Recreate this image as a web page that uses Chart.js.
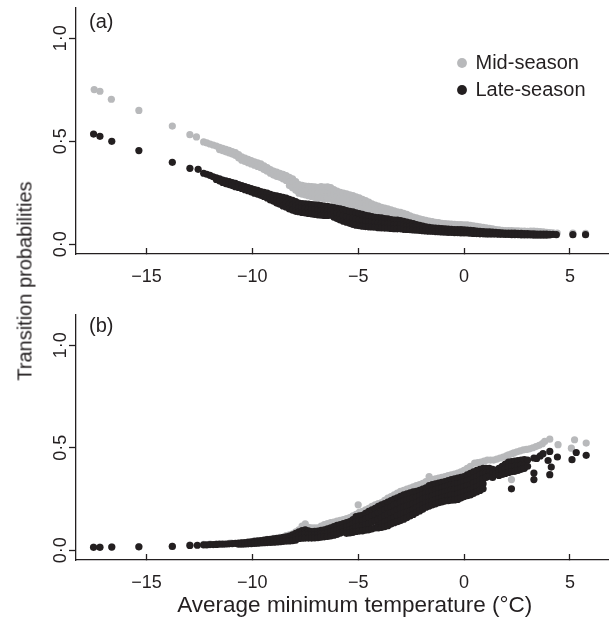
<!DOCTYPE html>
<html lang="en">
<head>
    <meta charset="UTF-8">
    <title>Transition probabilities</title>
    <script src="https://cdn.jsdelivr.net/npm/chart.js"></script>
    <style>
        html, body {
            margin: 0;
            padding: 0;
            background: #fff;
            overflow: hidden;
        }
        .page {
            position: relative;
            width: 609px;
            height: 619px;
            overflow: hidden;
        }
        .panel {
            position: absolute;
            left: 0;
        }
        .y-title {
            position: absolute;
            left: 25px;
            top: 281px;
            transform: translate(-50%, -50%) rotate(-90deg);
            white-space: nowrap;
            font-family: "Liberation Sans", Arial, sans-serif;
            font-size: 20px;
            color: #231f20;
        }
    </style>
</head>
<body>
<div class="page">
    <canvas id="chartA" class="panel" width="637" height="300" style="top:0"></canvas>
    <canvas id="chartB" class="panel" width="637" height="319" style="top:300px"></canvas>
    <div class="y-title">Transition probabilities</div>
</div>
<script>
// axis ticks
const xTickValues = [-15, -10, -5, 0, 5];
const xTickLabels = ['\u221215', '\u221210', '\u22125', '0', '5'];
const yTickValues = [0, 0.5, 1];
const yTickLabels = ['0\u00b70', '0\u00b75', '1\u00b70'];
const seriesNames = ['Mid-season', 'Late-season'];

// (a) mid-season, [temperature, probability]
const midSeasonA = [
    [-17.47,0.751],[-17.2,0.743],[-16.66,0.704],[-15.36,0.65],[-13.78,0.574],[-12.95,0.532],[-12.64,0.521],
    [-12.3,0.497],[-12.15,0.492],[-12.0,0.487],[-11.85,0.482],[-11.7,0.477],[-11.55,0.471],[-11.55,0.46],
    [-11.4,0.466],[-11.4,0.455],[-11.25,0.461],[-11.25,0.449],[-11.1,0.456],[-11.1,0.444],[-10.95,0.45],[-10.95,0.438],
    [-10.8,0.445],[-10.8,0.432],[-10.65,0.435],[-10.65,0.42],[-10.5,0.424],[-10.5,0.408],[-10.35,0.418],[-10.35,0.402],
    [-10.2,0.412],[-10.2,0.396],[-10.05,0.406],[-10.05,0.39],[-9.9,0.4],[-9.9,0.384],[-9.75,0.395],[-9.75,0.378],
    [-9.6,0.39],[-9.6,0.372],[-9.45,0.381],[-9.45,0.363],[-9.3,0.372],[-9.3,0.355],[-9.15,0.363],[-9.15,0.345],
    [-9.0,0.355],[-9.0,0.336],[-8.85,0.35],[-8.85,0.33],[-8.7,0.345],[-8.7,0.325],[-8.55,0.339],[-8.55,0.318],
    [-8.4,0.333],[-8.4,0.31],[-8.25,0.325],[-8.25,0.302],[-8.25,0.285],[-8.1,0.318],[-8.1,0.295],[-8.1,0.275],
    [-7.95,0.304],[-7.95,0.282],[-7.95,0.262],[-7.8,0.29],[-7.8,0.268],[-7.8,0.248],[-7.65,0.286],[-7.65,0.264],[-7.65,0.244],
    [-7.5,0.282],[-7.5,0.26],[-7.5,0.24],[-7.35,0.281],[-7.35,0.258],[-7.35,0.236],[-7.2,0.28],[-7.2,0.255],[-7.2,0.232],
    [-7.05,0.279],[-7.05,0.252],[-7.05,0.228],[-6.9,0.277],[-6.9,0.25],[-6.9,0.225],[-6.75,0.28],[-6.75,0.25],[-6.75,0.224],
    [-6.6,0.278],[-6.6,0.25],[-6.6,0.222],[-6.45,0.279],[-6.45,0.25],[-6.45,0.222],[-6.3,0.275],[-6.3,0.248],[-6.3,0.22],
    [-6.15,0.266],[-6.15,0.24],[-6.15,0.212],[-6.0,0.258],[-6.0,0.232],[-6.0,0.205],[-5.85,0.252],[-5.85,0.226],[-5.85,0.2],
    [-5.7,0.248],[-5.7,0.222],[-5.7,0.195],[-5.55,0.245],[-5.55,0.218],[-5.55,0.19],[-5.4,0.24],[-5.4,0.212],[-5.4,0.185],
    [-5.25,0.236],[-5.25,0.208],[-5.25,0.18],[-5.1,0.23],[-5.1,0.205],[-5.1,0.175],[-4.95,0.226],[-4.95,0.2],[-4.95,0.172],
    [-4.8,0.218],[-4.8,0.195],[-4.8,0.168],[-4.65,0.212],[-4.65,0.188],[-4.65,0.162],[-4.5,0.205],[-4.5,0.18],[-4.5,0.158],
    [-4.35,0.196],[-4.35,0.174],[-4.35,0.152],[-4.2,0.19],[-4.2,0.168],[-4.2,0.148],[-4.05,0.185],[-4.05,0.164],[-4.05,0.144],
    [-3.9,0.18],[-3.9,0.16],[-3.9,0.14],[-3.75,0.176],[-3.75,0.156],[-3.75,0.136],[-3.6,0.172],[-3.6,0.152],[-3.6,0.133],
    [-3.45,0.167],[-3.45,0.148],[-3.45,0.13],[-3.3,0.162],[-3.3,0.145],[-3.3,0.128],[-3.15,0.158],[-3.15,0.142],[-3.15,0.124],
    [-3.0,0.155],[-3.0,0.138],[-3.0,0.12],[-2.85,0.15],[-2.85,0.133],[-2.85,0.116],[-2.7,0.145],[-2.7,0.128],[-2.7,0.112],
    [-2.55,0.138],[-2.55,0.122],[-2.55,0.108],[-2.4,0.132],[-2.4,0.118],[-2.4,0.105],[-2.25,0.128],[-2.25,0.114],[-2.25,0.1],
    [-2.1,0.124],[-2.1,0.11],[-2.1,0.098],[-1.95,0.12],[-1.95,0.107],[-1.95,0.094],[-1.8,0.116],[-1.8,0.104],[-1.8,0.092],
    [-1.65,0.113],[-1.65,0.1],[-1.65,0.09],[-1.5,0.11],[-1.5,0.098],[-1.5,0.088],[-1.35,0.107],[-1.35,0.094],
    [-1.2,0.105],[-1.2,0.092],[-1.05,0.102],[-1.05,0.09],[-0.9,0.1],[-0.9,0.088],[-0.75,0.099],[-0.75,0.086],
    [-0.6,0.098],[-0.6,0.085],[-0.45,0.097],[-0.45,0.084],[-0.3,0.096],[-0.3,0.083],[-0.15,0.096],[-0.15,0.083],
    [0.0,0.095],[0.0,0.082],[0.15,0.094],[0.15,0.081],[0.3,0.092],[0.3,0.08],[0.45,0.09],[0.45,0.078],
    [0.6,0.087],[0.6,0.076],[0.75,0.085],[0.75,0.074],[0.9,0.082],[0.9,0.072],[1.05,0.08],[1.05,0.07],
    [1.2,0.077],[1.2,0.068],[1.35,0.075],[1.35,0.066],[1.5,0.072],[1.5,0.064],[1.65,0.07],[1.65,0.063],
    [1.8,0.068],[1.8,0.062],[1.95,0.067],[2.1,0.066],[2.25,0.066],[2.4,0.065],[2.55,0.065],[2.7,0.064],[2.85,0.064],
    [3.0,0.063],[3.15,0.064],[3.3,0.064],[3.45,0.063],[3.6,0.062],[3.75,0.06],[3.9,0.058],[4.05,0.057],[4.2,0.056],
    [4.4,0.055],[5.14,0.054],[5.74,0.053]
];

// (a) late-season
const lateSeasonA = [
    [-17.5,0.535],[-17.2,0.524],[-16.64,0.5],[-15.36,0.455],[-13.78,0.398],[-12.95,0.369],[-12.56,0.364],
    [-12.3,0.345],[-12.15,0.34],[-12.0,0.335],[-11.85,0.328],[-11.7,0.322],[-11.7,0.315],[-11.55,0.318],[-11.55,0.308],
    [-11.4,0.312],[-11.4,0.3],[-11.25,0.308],[-11.25,0.295],[-11.1,0.305],[-11.1,0.29],[-10.95,0.3],[-10.95,0.285],
    [-10.8,0.296],[-10.8,0.28],[-10.65,0.29],[-10.65,0.276],[-10.5,0.285],[-10.5,0.271],[-10.35,0.28],[-10.35,0.265],
    [-10.2,0.275],[-10.2,0.26],[-10.05,0.27],[-10.05,0.255],[-9.9,0.266],[-9.9,0.248],[-9.75,0.262],[-9.75,0.244],
    [-9.6,0.256],[-9.6,0.238],[-9.45,0.252],[-9.45,0.232],[-9.3,0.248],[-9.3,0.225],[-9.15,0.243],[-9.15,0.226],[-9.15,0.215],
    [-9.0,0.238],[-9.0,0.222],[-9.0,0.21],[-8.85,0.235],[-8.85,0.216],[-8.85,0.2],[-8.7,0.232],[-8.7,0.212],[-8.7,0.195],
    [-8.55,0.228],[-8.55,0.206],[-8.55,0.186],[-8.4,0.224],[-8.4,0.2],[-8.4,0.18],[-8.25,0.218],[-8.25,0.195],[-8.25,0.172],
    [-8.1,0.213],[-8.1,0.19],[-8.1,0.166],[-7.95,0.207],[-7.95,0.184],[-7.95,0.16],[-7.8,0.2],[-7.8,0.178],[-7.8,0.158],
    [-7.65,0.198],[-7.65,0.176],[-7.65,0.155],[-7.5,0.197],[-7.5,0.174],[-7.5,0.152],[-7.35,0.195],[-7.35,0.172],[-7.35,0.15],
    [-7.2,0.193],[-7.2,0.17],[-7.2,0.148],[-7.05,0.192],[-7.05,0.168],[-7.05,0.145],[-6.9,0.19],[-6.9,0.166],[-6.9,0.143],
    [-6.75,0.188],[-6.75,0.164],[-6.75,0.141],[-6.6,0.185],[-6.6,0.162],[-6.6,0.14],[-6.45,0.184],[-6.45,0.161],[-6.45,0.14],
    [-6.3,0.181],[-6.3,0.16],[-6.3,0.142],[-6.15,0.178],[-6.15,0.155],[-6.15,0.132],[-6.0,0.175],[-6.0,0.15],[-6.0,0.125],
    [-5.85,0.172],[-5.85,0.145],[-5.85,0.118],[-5.7,0.168],[-5.7,0.14],[-5.7,0.112],[-5.55,0.164],[-5.55,0.135],[-5.55,0.107],
    [-5.4,0.16],[-5.4,0.13],[-5.4,0.102],[-5.25,0.157],[-5.25,0.127],[-5.25,0.097],[-5.1,0.153],[-5.1,0.122],[-5.1,0.093],
    [-4.95,0.149],[-4.95,0.119],[-4.95,0.09],[-4.8,0.145],[-4.8,0.116],[-4.8,0.088],[-4.65,0.141],[-4.65,0.113],[-4.65,0.086],
    [-4.5,0.138],[-4.5,0.11],[-4.5,0.085],[-4.35,0.134],[-4.35,0.108],[-4.35,0.084],[-4.2,0.131],[-4.2,0.106],[-4.2,0.083],
    [-4.05,0.13],[-4.05,0.104],[-4.05,0.081],[-3.9,0.128],[-3.9,0.102],[-3.9,0.08],[-3.75,0.125],[-3.75,0.101],[-3.75,0.079],
    [-3.6,0.123],[-3.6,0.1],[-3.6,0.078],[-3.45,0.12],[-3.45,0.098],[-3.45,0.077],[-3.3,0.118],[-3.3,0.096],[-3.3,0.076],
    [-3.15,0.117],[-3.15,0.095],[-3.15,0.075],[-3.0,0.115],[-3.0,0.094],[-3.0,0.075],[-2.85,0.112],[-2.85,0.092],[-2.85,0.073],
    [-2.7,0.108],[-2.7,0.09],[-2.7,0.072],[-2.55,0.104],[-2.55,0.087],[-2.55,0.071],[-2.4,0.1],[-2.4,0.085],[-2.4,0.07],
    [-2.25,0.096],[-2.25,0.082],[-2.25,0.069],[-2.1,0.092],[-2.1,0.068],[-1.95,0.088],[-1.95,0.066],[-1.8,0.085],[-1.8,0.065],
    [-1.65,0.082],[-1.65,0.064],[-1.5,0.08],[-1.5,0.063],[-1.35,0.079],[-1.35,0.062],[-1.2,0.078],[-1.2,0.061],
    [-1.05,0.076],[-1.05,0.06],[-0.9,0.075],[-0.9,0.059],[-0.75,0.074],[-0.75,0.058],[-0.6,0.073],[-0.6,0.058],
    [-0.45,0.072],[-0.45,0.057],[-0.3,0.072],[-0.3,0.057],[-0.15,0.071],[-0.15,0.056],[0.0,0.07],[0.0,0.056],
    [0.15,0.069],[0.15,0.055],[0.3,0.068],[0.3,0.054],[0.45,0.066],[0.45,0.053],[0.6,0.064],[0.6,0.052],
    [0.75,0.063],[0.75,0.051],[0.9,0.062],[0.9,0.051],[1.05,0.061],[1.05,0.05],[1.2,0.06],[1.2,0.05],
    [1.35,0.059],[1.35,0.05],[1.5,0.058],[1.5,0.05],[1.65,0.057],[1.65,0.049],[1.8,0.056],[1.8,0.049],
    [1.95,0.055],[1.95,0.048],[2.1,0.055],[2.1,0.048],[2.25,0.054],[2.25,0.047],[2.4,0.054],[2.4,0.047],
    [2.55,0.053],[2.55,0.047],[2.7,0.053],[2.7,0.046],[2.85,0.052],[2.85,0.046],[3.0,0.052],[3.0,0.046],
    [3.15,0.051],[3.15,0.046],[3.3,0.051],[3.3,0.045],[3.45,0.05],[3.45,0.045],[3.6,0.05],[3.6,0.045],
    [3.75,0.049],[3.75,0.045],[3.9,0.049],[3.9,0.045],[4.05,0.048],[4.05,0.046],[4.2,0.048],
    [4.36,0.047],[5.14,0.047],[5.74,0.047]
];

// (b) mid-season
const midSeasonB = [
    [-17.5,0.016],[-17.2,0.016],[-16.64,0.017],[-15.36,0.018],[-13.78,0.02],[-12.95,0.026],
    [-12.3,0.029],[-12.0,0.03],[-11.7,0.031],[-11.1,0.034],[-11.0,0.035],[-10.5,0.038],[-10.0,0.043],[-9.9,0.046],
    [-9.3,0.054],[-9.0,0.058],[-8.7,0.063],[-8.4,0.072],[-8.25,0.076],[-8.1,0.08],[-7.95,0.09],[-7.8,0.1],[-7.65,0.118],
    [-7.5,0.129],[-7.5,0.11],[-7.35,0.112],[-7.2,0.11],[-7.05,0.11],[-6.9,0.11],[-6.75,0.118],[-6.6,0.125],[-6.45,0.13],
    [-6.3,0.135],[-6.15,0.138],[-6.0,0.142],[-5.85,0.146],[-5.7,0.15],[-5.55,0.155],[-5.4,0.16],[-5.25,0.168],
    [-5.1,0.175],[-5.0,0.222],[-4.95,0.185],[-4.8,0.19],[-4.65,0.198],[-4.5,0.205],[-4.35,0.214],[-4.2,0.222],
    [-4.05,0.228],[-3.9,0.233],[-3.75,0.244],[-3.6,0.255],[-3.45,0.262],[-3.3,0.27],[-3.15,0.279],[-3.0,0.287],
    [-2.85,0.292],[-2.7,0.298],[-2.55,0.304],[-2.4,0.31],[-2.25,0.315],[-2.1,0.32],[-1.95,0.327],[-1.8,0.335],
    [-1.65,0.36],[-1.5,0.345],[-1.35,0.348],[-1.2,0.352],[-1.05,0.356],[-0.9,0.36],[-0.75,0.364],[-0.6,0.368],
    [-0.45,0.372],[-0.3,0.376],[-0.15,0.382],[0.0,0.39],[0.15,0.4],[0.3,0.41],[0.5,0.425],[0.65,0.428],[0.8,0.43],
    [0.95,0.435],[1.1,0.44],[1.25,0.44],[1.4,0.44],[1.55,0.445],[1.7,0.45],[1.85,0.455],[2.0,0.46],[2.1,0.465],
    [2.24,0.47],[2.24,0.345],[2.35,0.475],[2.5,0.48],[2.65,0.485],[2.8,0.49],[2.95,0.492],[3.1,0.495],[3.25,0.5],
    [3.4,0.506],[3.55,0.512],[3.7,0.52],[3.81,0.531],[4.05,0.542],[4.44,0.515],[5.07,0.498],[5.22,0.539],[5.77,0.523]
];

// (b) late-season
const lateSeasonB = [
    [-17.5,0.015],[-17.2,0.015],[-16.64,0.016],[-15.36,0.017],[-13.78,0.019],[-12.95,0.024],[-12.6,0.025],
    [-12.3,0.027],[-12.15,0.027],[-12.0,0.028],[-11.85,0.028],[-11.7,0.029],[-11.55,0.03],[-11.4,0.03],[-11.25,0.031],
    [-11.1,0.032],[-10.95,0.033],[-10.8,0.034],[-10.65,0.035],[-10.65,0.03],[-10.5,0.036],[-10.5,0.03],
    [-10.35,0.038],[-10.35,0.031],[-10.2,0.04],[-10.2,0.032],[-10.05,0.042],[-10.05,0.033],[-9.9,0.044],[-9.9,0.034],
    [-9.75,0.046],[-9.75,0.035],[-9.6,0.048],[-9.6,0.036],[-9.45,0.05],[-9.45,0.037],[-9.3,0.052],[-9.3,0.038],
    [-9.15,0.054],[-9.15,0.039],[-9.0,0.056],[-9.0,0.04],[-8.85,0.058],[-8.85,0.041],[-8.7,0.06],[-8.7,0.042],
    [-8.55,0.063],[-8.55,0.044],[-8.4,0.066],[-8.4,0.045],[-8.25,0.07],[-8.25,0.055],[-8.25,0.046],
    [-8.1,0.075],[-8.1,0.06],[-8.1,0.047],[-7.95,0.083],[-7.95,0.066],[-7.95,0.05],[-7.8,0.09],[-7.8,0.075],[-7.8,0.058],
    [-7.65,0.096],[-7.65,0.078],[-7.65,0.059],[-7.5,0.1],[-7.5,0.08],[-7.5,0.06],[-7.35,0.095],[-7.35,0.078],[-7.35,0.06],
    [-7.2,0.092],[-7.2,0.075],[-7.2,0.06],[-7.05,0.093],[-7.05,0.077],[-7.05,0.061],[-6.9,0.094],[-6.9,0.078],[-6.9,0.062],
    [-6.75,0.097],[-6.75,0.08],[-6.75,0.064],[-6.6,0.1],[-6.6,0.082],[-6.6,0.066],[-6.45,0.105],[-6.45,0.086],[-6.45,0.068],
    [-6.3,0.11],[-6.3,0.09],[-6.3,0.07],[-6.15,0.116],[-6.15,0.095],[-6.15,0.074],[-6.0,0.122],[-6.0,0.1],[-6.0,0.078],
    [-5.85,0.126],[-5.85,0.105],[-5.85,0.084],[-5.7,0.13],[-5.7,0.11],[-5.7,0.09],
    [-5.55,0.135],[-5.55,0.115],[-5.55,0.095],[-5.55,0.083],[-5.4,0.14],[-5.4,0.12],[-5.4,0.1],[-5.4,0.085],
    [-5.25,0.15],[-5.25,0.128],[-5.25,0.106],[-5.25,0.088],[-5.1,0.165],[-5.1,0.14],[-5.1,0.115],[-5.1,0.092],
    [-4.95,0.168],[-4.95,0.142],[-4.95,0.118],[-4.95,0.094],[-4.8,0.17],[-4.8,0.145],[-4.8,0.12],[-4.8,0.095],
    [-4.65,0.18],[-4.65,0.152],[-4.65,0.125],[-4.65,0.098],[-4.5,0.19],[-4.5,0.16],[-4.5,0.13],[-4.5,0.1],
    [-4.35,0.198],[-4.35,0.168],[-4.35,0.138],[-4.35,0.105],[-4.2,0.205],[-4.2,0.175],[-4.2,0.145],[-4.2,0.11],
    [-4.05,0.215],[-4.05,0.183],[-4.05,0.152],[-4.05,0.12],[-4.05,0.11],
    [-3.9,0.222],[-3.9,0.19],[-3.9,0.16],[-3.9,0.13],[-3.9,0.112],[-3.75,0.228],[-3.75,0.198],[-3.75,0.168],[-3.75,0.138],[-3.75,0.116],
    [-3.6,0.235],[-3.6,0.205],[-3.6,0.175],[-3.6,0.145],[-3.6,0.12],[-3.45,0.243],[-3.45,0.212],[-3.45,0.182],[-3.45,0.152],[-3.45,0.128],
    [-3.3,0.25],[-3.3,0.22],[-3.3,0.19],[-3.3,0.16],[-3.3,0.135],[-3.15,0.256],[-3.15,0.228],[-3.15,0.198],[-3.15,0.168],[-3.15,0.14],
    [-3.0,0.263],[-3.0,0.235],[-3.0,0.205],[-3.0,0.175],[-3.0,0.145],[-2.85,0.27],[-2.85,0.24],[-2.85,0.21],[-2.85,0.18],[-2.85,0.152],
    [-2.7,0.275],[-2.7,0.245],[-2.7,0.215],[-2.7,0.185],[-2.7,0.16],[-2.55,0.28],[-2.55,0.25],[-2.55,0.22],[-2.55,0.192],[-2.55,0.168],
    [-2.4,0.285],[-2.4,0.255],[-2.4,0.225],[-2.4,0.2],[-2.4,0.175],[-2.25,0.288],[-2.25,0.26],[-2.25,0.232],[-2.25,0.208],[-2.25,0.184],
    [-2.1,0.292],[-2.1,0.265],[-2.1,0.24],[-2.1,0.215],[-2.1,0.192],[-1.95,0.298],[-1.95,0.272],[-1.95,0.248],[-1.95,0.222],[-1.95,0.2],
    [-1.8,0.305],[-1.8,0.28],[-1.8,0.255],[-1.8,0.23],[-1.8,0.21],[-1.65,0.315],[-1.65,0.285],[-1.65,0.26],[-1.65,0.235],[-1.65,0.216],
    [-1.5,0.32],[-1.5,0.29],[-1.5,0.265],[-1.5,0.24],[-1.5,0.222],[-1.35,0.324],[-1.35,0.295],[-1.35,0.27],[-1.35,0.246],[-1.35,0.227],
    [-1.2,0.328],[-1.2,0.3],[-1.2,0.275],[-1.2,0.252],[-1.2,0.232],[-1.05,0.332],[-1.05,0.305],[-1.05,0.28],[-1.05,0.256],[-1.05,0.236],
    [-0.9,0.335],[-0.9,0.31],[-0.9,0.285],[-0.9,0.26],[-0.9,0.24],[-0.75,0.34],[-0.75,0.315],[-0.75,0.29],[-0.75,0.265],[-0.75,0.242],
    [-0.6,0.345],[-0.6,0.32],[-0.6,0.295],[-0.6,0.27],[-0.6,0.245],[-0.45,0.348],[-0.45,0.322],[-0.45,0.298],[-0.45,0.272],[-0.45,0.246],
    [-0.3,0.352],[-0.3,0.325],[-0.3,0.3],[-0.3,0.275],[-0.3,0.248],[-0.15,0.356],[-0.15,0.33],[-0.15,0.305],[-0.15,0.28],[-0.15,0.255],
    [0.0,0.36],[0.0,0.335],[0.0,0.31],[0.0,0.285],[0.0,0.262],[0.15,0.368],[0.15,0.34],[0.15,0.315],[0.15,0.29],[0.15,0.266],
    [0.3,0.375],[0.3,0.345],[0.3,0.32],[0.3,0.295],[0.3,0.27],[0.45,0.382],[0.45,0.352],[0.45,0.328],[0.45,0.302],[0.45,0.278],
    [0.6,0.39],[0.6,0.36],[0.6,0.335],[0.6,0.31],[0.6,0.285],[0.75,0.395],[0.75,0.368],[0.75,0.342],[0.75,0.318],[0.75,0.292],
    [0.9,0.4],[0.9,0.375],[0.9,0.35],[0.9,0.325],[0.9,0.3],[1.05,0.4],[1.05,0.378],[1.05,0.356],
    [1.2,0.4],[1.2,0.38],[1.2,0.362],[1.35,0.395],[1.35,0.374],[1.35,0.355],[1.5,0.39],[1.5,0.37],
    [1.65,0.4],[1.65,0.38],[1.65,0.365],[1.8,0.41],[1.8,0.39],[1.8,0.37],[1.95,0.42],[1.95,0.398],[1.95,0.375],
    [2.1,0.43],[2.1,0.405],[2.1,0.38],[2.24,0.3],[2.25,0.432],[2.25,0.408],[2.25,0.383],[2.4,0.435],[2.4,0.41],[2.4,0.385],
    [2.55,0.438],[2.55,0.412],[2.55,0.39],[2.7,0.44],[2.7,0.415],[2.7,0.395],[2.85,0.442],[2.85,0.414],[2.85,0.4],
    [3.0,0.44],[3.0,0.41],[3.3,0.45],[3.3,0.377],[3.3,0.345],[3.43,0.448],[3.6,0.46],[3.73,0.471],[3.97,0.438],
    [4.05,0.482],[4.05,0.369],[4.12,0.406],[4.41,0.455],[5.1,0.442],[5.3,0.477],[5.77,0.463]
];

const ink = '#231f20';
const grey = '#b8b9bb';

Chart.defaults.font.family = '"Liberation Sans", Arial, sans-serif';
Chart.defaults.color = ink;

const toPoints = arr => arr.map(p => ({ x: p[0], y: p[1] }));

// panel letter in the top-left corner of the plot
const panelLabel = {
    id: 'panelLabel',
    afterDraw(chart, args, opts) {
        const ctx = chart.ctx;
        ctx.save();
        ctx.font = '20px "Liberation Sans", Arial, sans-serif';
        ctx.fillStyle = ink;
        ctx.textBaseline = 'middle';
        ctx.fillText(opts.text, chart.chartArea.left + 13, chart.chartArea.top + opts.dy);
        ctx.restore();
    }
};

// move the chartArea legend to the upper right of the plot
const legendPlace = {
    id: 'legendPlace',
    afterLayout(chart, args, opts) {
        const lg = chart.legend;
        if (!lg || !chart.options.plugins.legend.display) return;
        lg.left = chart.chartArea.left + opts.dx;
        lg.top = chart.chartArea.top + opts.dy;
    }
};

function makeChart(id, mid, late, opts) {
    const dot = { pointRadius: 3.6, pointHoverRadius: 3.6, borderWidth: 0, pointStyle: 'circle' };
    return new Chart(document.getElementById(id), {
        type: 'scatter',
        data: {
            datasets: [
                Object.assign({ label: seriesNames[0], data: toPoints(mid), backgroundColor: grey, borderColor: grey, order: 1 }, dot),
                Object.assign({ label: seriesNames[1], data: toPoints(late), backgroundColor: ink, borderColor: ink, order: 0 }, dot)
            ]
        },
        options: {
            responsive: false,
            animation: false,
            layout: { padding: { top: opts.top, right: 0, bottom: 0, left: 0 } },
            plugins: {
                tooltip: { enabled: false },
                legend: {
                    display: opts.legend,
                    position: 'chartArea',
                    align: 'start',
                    labels: {
                        usePointStyle: true,
                        boxWidth: 7,
                        boxHeight: 7,
                        padding: 7,
                        color: ink,
                        font: { size: 20 },
                        sort: (a, b) => a.datasetIndex - b.datasetIndex
                    }
                },
                legendPlace: { dx: 375.5, dy: 38 },
                panelLabel: { text: opts.letter, dy: opts.letterDy }
            },
            scales: {
                x: {
                    type: 'linear',
                    min: -18.33,
                    max: 8.0,
                    afterBuildTicks: s => { s.ticks = xTickValues.map(v => ({ value: v })); },
                    afterFit: s => { s.height = opts.xHeight; s.paddingLeft = 0; s.paddingRight = 0; },
                    ticks: {
                        callback: (v, i) => xTickLabels[i],
                        font: { size: 18 },
                        color: ink,
                        padding: 18,
                        maxRotation: 0,
                        autoSkip: false
                    },
                    grid: { drawOnChartArea: false, tickLength: -6, tickColor: ink, tickWidth: 1.3 },
                    border: { color: ink, width: 1.3 },
                    title: {
                        display: !!opts.xTitle,
                        text: opts.xTitle || '',
                        font: { size: 22.5 },
                        color: ink,
                        padding: { top: 0, bottom: 0 }
                    }
                },
                y: {
                    type: 'linear',
                    min: -0.047,
                    max: 1.147,
                    afterBuildTicks: s => { s.ticks = yTickValues.map(v => ({ value: v })); },
                    afterFit: s => { s.width = 76; s.paddingTop = 0; s.paddingBottom = 0; },
                    ticks: {
                        callback: (v, i) => yTickLabels[i],
                        font: { size: 18 },
                        color: ink,
                        minRotation: 90,
                        maxRotation: 90,
                        crossAlign: 'center',
                        padding: -5
                    },
                    grid: { drawOnChartArea: false, tickLength: 7, tickColor: ink, tickWidth: 1.3 },
                    border: { color: ink, width: 1.3 }
                }
            }
        },
        plugins: [panelLabel, legendPlace]
    });
}

makeChart('chartA', midSeasonA, lateSeasonA, { top: 8, legend: true, letter: '(a)', letterDy: 14, xHeight: 46 });
makeChart('chartB', midSeasonB, lateSeasonB, {
    top: 15, legend: false, letter: '(b)', letterDy: 11, xHeight: 59,
    xTitle: 'Average minimum temperature (\u00b0C)'
});
</script>
</body>
</html>
